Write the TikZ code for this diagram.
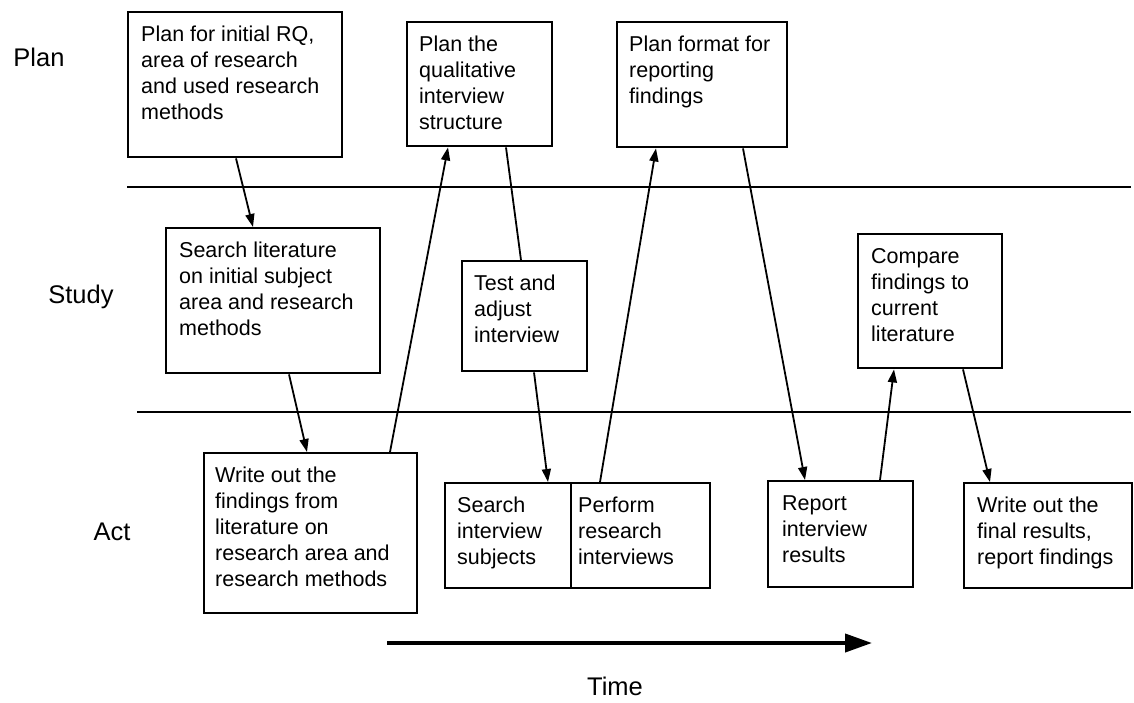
\documentclass[tikz,border=0pt]{standalone}
\usepackage{fontspec}
\setmainfont{Liberation Sans}
\usetikzlibrary{arrows.meta}
\begin{document}
\begin{tikzpicture}[x=1pt,y=-1pt,
  box/.style={draw, line width=2.4pt, inner sep=0pt, anchor=north west},
  txt/.style={anchor=north west, inner sep=0pt, align=left, font=\fontsize{21.5}{26}\selectfont, execute at begin node=\strut},
  lbl/.style={font=\fontsize{25.5}{30}\selectfont, inner sep=0pt},
  arr/.style={line width=1.8pt, -{Triangle[length=13pt,width=9pt]}},
  conn/.style={line width=1.8pt},
  divider/.style={line width=1.2pt},
  timearrow/.style={line width=4pt, -{Triangle[length=27pt,width=18pt]}}]
\useasboundingbox (0,0) rectangle (1134,702);

% lane labels
\node[lbl] (lplan) at (39,57) {Plan};
\node[lbl] (lstudy) at (81,297) {Study};
\node[lbl] (lact) at (112,532) {Act};
\node[lbl] (ltime) at (615,686) {Time};

% dividers
\coordinate (d1a) at (127,187);
\coordinate (d1b) at (1131,187);
\coordinate (d2a) at (137,412);
\coordinate (d2b) at (1131,412);
\draw[divider] (d1a) -- (d1b);
\draw[divider] (d2a) -- (d2b);

% boxes
\node[box, minimum width=214, minimum height=145] (b1) at (127,11) {};
\node[box, minimum width=145, minimum height=124] (b2) at (406,21) {};
\node[box, minimum width=170, minimum height=125] (b3) at (616,21) {};
\node[box, minimum width=214, minimum height=145] (b4) at (165,227) {};
\node[box, minimum width=125, minimum height=110] (b5) at (461,260) {};
\node[box, minimum width=144, minimum height=134] (b6) at (857,233) {};
\node[box, minimum width=213, minimum height=160] (b7) at (203,452) {};
\node[box, minimum width=126, minimum height=105] (b8) at (444,482) {};
\node[box, minimum width=139, minimum height=105] (b9) at (570,482) {};
\node[box, minimum width=145, minimum height=106] (b10) at (767,480) {};
\node[box, minimum width=168, minimum height=105] (b11) at (963,482) {};

% texts
\node[txt] (t1) at ([shift={(14,15)}]b1.north west) {Plan for initial RQ,\\area of research\\and used research\\methods};
\node[txt] (t2) at ([shift={(13,15)}]b2.north west) {Plan the\\qualitative\\interview\\structure};
\node[txt] (t3) at ([shift={(13,15)}]b3.north west) {Plan format for\\reporting\\findings};
\node[txt] (t4) at ([shift={(14,15)}]b4.north west) {Search literature\\on initial subject\\area and research\\methods};
\node[txt] (t5) at ([shift={(13,15)}]b5.north west) {Test and\\adjust\\interview};
\node[txt] (t6) at ([shift={(14,15)}]b6.north west) {Compare\\findings to\\current\\literature};
\node[txt] (t7) at ([shift={(12,15)}]b7.north west) {Write out the\\findings from\\literature on\\research area and\\research methods};
\node[txt] (t8) at ([shift={(13,15)}]b8.north west) {Search\\interview\\subjects};
\node[txt] (t9) at ([shift={(8,15)}]b9.north west) {Perform\\research\\interviews};
\node[txt] (t10) at ([shift={(15,15)}]b10.north west) {Report\\interview\\results};
\node[txt] (t11) at ([shift={(14,15)}]b11.north west) {Write out the\\final results,\\report findings};

% connectors
\draw[arr] ([xshift=109]b1.south west) -- ([xshift=88]b4.north west);
\draw[arr] ([xshift=124]b4.south west) -- ([xshift=104]b7.north west);
\draw[arr] ([xshift=187]b7.north west) -- ([xshift=42]b2.south west);
\draw[conn] ([xshift=100]b2.south west) -- ([xshift=60]b5.north west);
\draw[arr] ([xshift=73]b5.south west) -- ([xshift=104]b8.north west);
\draw[arr] ([xshift=30]b9.north west) -- ([xshift=40]b3.south west);
\draw[arr] ([xshift=127]b3.south west) -- ([xshift=38]b10.north west);
\draw[arr] ([xshift=113]b10.north west) -- ([xshift=37]b6.south west);
\draw[arr] ([xshift=106]b6.south west) -- ([xshift=27]b11.north west);

% time arrow
\coordinate (ta) at (387,643);
\coordinate (tb) at (872,643);
\draw[timearrow] (ta) -- (tb);
\end{tikzpicture}
\end{document}
